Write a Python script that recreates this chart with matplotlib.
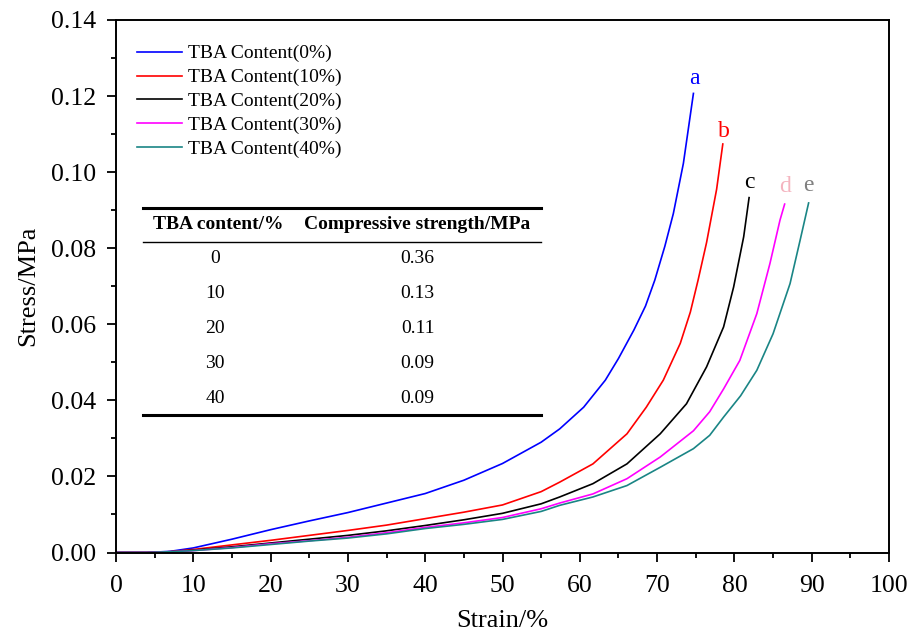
import matplotlib
matplotlib.use("Agg")
import matplotlib.pyplot as plt
from matplotlib.ticker import MultipleLocator
from matplotlib.lines import Line2D

plt.rcParams['font.family'] = ['Liberation Serif', 'DejaVu Serif']

# ---- data ----
series_names = ["TBA Content(0%)", "TBA Content(10%)", "TBA Content(20%)",
                "TBA Content(30%)", "TBA Content(40%)"]
curve_letters = ["a", "b", "c", "d", "e"]

x_a = [0, 4, 7, 10, 15, 20, 25, 30, 35, 40, 45, 50, 55, 57.4, 60.5, 63.3, 65, 67, 68.5, 69.7, 71, 72.1, 73.4, 74.7]
y_a = [0, 0, 0.0003, 0.0012, 0.0035, 0.006, 0.0083, 0.0105, 0.013, 0.0155, 0.019, 0.0234, 0.029,
       0.0325, 0.0382, 0.0453, 0.051, 0.0585, 0.0648, 0.0716, 0.0805, 0.0891, 0.1023, 0.1207]

x_b = [0, 4, 7, 10, 15, 20, 25, 30, 35, 40, 45, 50, 55, 57.4, 61.7, 66.1, 68.6, 70.8, 73, 74.3, 75.3, 76.4, 77.7, 78.5]
y_b = [0, 0, 0.0002, 0.0008, 0.002, 0.0032, 0.0045, 0.0058, 0.0072, 0.0089, 0.0106, 0.0125, 0.016,
       0.0185, 0.0233, 0.0312, 0.0382, 0.0453, 0.055, 0.0632, 0.0716, 0.0815, 0.0955, 0.1074]

x_c = [0, 4, 7, 10, 15, 20, 25, 30, 35, 40, 45, 50, 55, 57.4, 61.7, 66.1, 70.4, 73.8, 76.4, 78.6, 79.9, 81.2, 81.9]
y_c = [0, 0, 0.0002, 0.0006, 0.0015, 0.0025, 0.0035, 0.0045, 0.0057, 0.0071, 0.0086, 0.0103, 0.0128,
       0.0146, 0.0181, 0.0233, 0.0312, 0.0391, 0.0488, 0.0593, 0.0698, 0.083, 0.0933]

x_d = [0, 4, 7, 10, 15, 20, 25, 30, 35, 40, 45, 50, 55, 57.4, 61.7, 66.1, 70.4, 74.7, 76.8, 78.6, 80.7,
       82.9, 84.6, 85.9, 86.5]
y_d = [0, 0, 0.0002, 0.0005, 0.0013, 0.0023, 0.0031, 0.004, 0.0052, 0.0066, 0.0078, 0.0092, 0.0115,
       0.013, 0.0154, 0.0194, 0.0251, 0.032, 0.037, 0.043, 0.0505, 0.0628, 0.076, 0.0874, 0.0916]

x_e = [0, 4, 7, 10, 15, 20, 25, 30, 35, 40, 45, 50, 55, 57.4, 61.7, 66.1, 70.4, 74.7, 76.8, 78.6, 80.8, 82.9,
       85.0, 87.2, 88.5, 89.6]
y_e = [0, 0, 0.0002, 0.0005, 0.0012, 0.0021, 0.003, 0.0038, 0.0049, 0.0063, 0.0074, 0.0087, 0.0108,
       0.0124, 0.0146, 0.0176, 0.0224, 0.0273, 0.0308, 0.0356, 0.0412, 0.0479, 0.0575, 0.0707, 0.0821, 0.0919]

letter_x = [74.8, 78.7, 82.0, 86.5, 89.6]
letter_y = [0.1247, 0.1106, 0.0972, 0.0963, 0.0966]

table_header = ["TBA content/%", "Compressive strength/MPa"]
table_content = ["0", "10", "20", "30", "40"]
table_strength = ["0.36", "0.13", "0.11", "0.09", "0.09"]

line_colors = ["#0000ff", "#ff0000", "#000000", "#ff00ff", "#1a8585"]
letter_colors = ["#0000ff", "#ff0000", "#000000", "#f4b4bf", "#808080"]

# ---- figure ----
W, H = 918, 633
fig = plt.figure(figsize=(W / 100, H / 100), dpi=100)
ax = fig.add_axes([116 / W, 1 - 552.5 / H, (889 - 116) / W, (552.5 - 20) / H])

xs = [x_a, x_b, x_c, x_d, x_e]
ys = [y_a, y_b, y_c, y_d, y_e]
for xv, yv, c, name in zip(xs, ys, line_colors, series_names):
    ax.plot(xv, yv, color=c, lw=1.2, label=name)

for lx, ly, lt, lc in zip(letter_x, letter_y, curve_letters, letter_colors):
    ax.text(lx, ly, lt, color=lc, fontsize=17, ha='center', va='center')

ax.set_xlim(0, 100)
ax.set_ylim(0, 0.14)
ax.xaxis.set_major_locator(MultipleLocator(10))
ax.xaxis.set_minor_locator(MultipleLocator(5))
ax.yaxis.set_major_locator(MultipleLocator(0.02))
ax.yaxis.set_minor_locator(MultipleLocator(0.01))
ax.yaxis.set_major_formatter(matplotlib.ticker.FormatStrFormatter('%.2f'))
ax.tick_params(which='major', direction='out', length=6.5, width=1.3, labelsize=18.5)
ax.tick_params(which='minor', direction='out', length=3.5, width=1.3)
ax.tick_params(axis='x', which='major', pad=10)
ax.tick_params(axis='y', which='major', pad=8)
for s in ax.spines.values():
    s.set_linewidth(1.4)

ax.set_xlabel("Strain/%", fontsize=19, labelpad=9)
ax.set_ylabel("Stress/MPa", fontsize=19, labelpad=8.5)

leg = ax.legend(loc='upper left', bbox_to_anchor=(0.0165, 0.968), frameon=False, fontsize=14,
                handlelength=2.35, handletextpad=0.28, labelspacing=0.32, borderaxespad=0.0)

# ---- inset table ----
def fx(px):
    return px / W

def fy(py):
    return 1 - py / H

fig.add_artist(Line2D([fx(143), fx(541)], [fy(208), fy(208)], color='black', lw=2.2))
fig.add_artist(Line2D([fx(143), fx(541)], [fy(241.5), fy(241.5)], color='black', lw=1.0))
fig.add_artist(Line2D([fx(143), fx(541)], [fy(415), fy(415)], color='black', lw=2.2))
col1, col2 = 218, 417.5
fig.text(fx(col1), fy(224.5), table_header[0], fontsize=14, fontweight='bold', ha='center', va='center')
fig.text(fx(col2), fy(224.5), table_header[1], fontsize=14, fontweight='bold', ha='center', va='center')
row_y = [258.5, 293.5, 328.5, 363.5, 398.5]
for ry, c1, c2 in zip(row_y, table_content, table_strength):
    fig.text(fx(col1 - 3), fy(ry), c1, fontsize=14, ha='center', va='center')
    fig.text(fx(col2), fy(ry), c2, fontsize=14, ha='center', va='center')

fig.savefig("out.png", dpi=100)
